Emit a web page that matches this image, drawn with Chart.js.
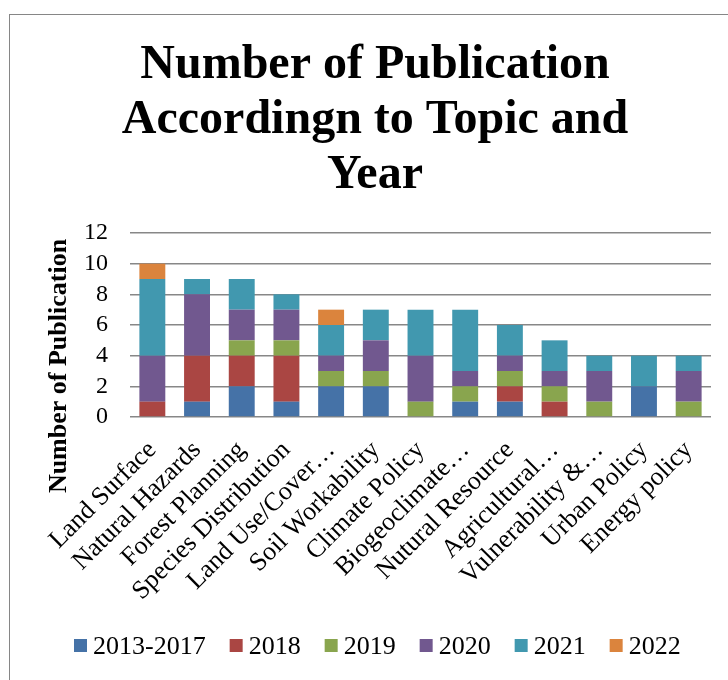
<!DOCTYPE html>
<html>
<head>
<meta charset="utf-8">
<script src="https://cdn.jsdelivr.net/npm/chart.js@4/dist/chart.umd.min.js"></script>
<style>
  html, body { margin: 0; padding: 0; overflow: hidden; background: #fff; width: 728px; height: 680px; }
  #frame { position: absolute; left: 9px; top: 14px; width: 740px; height: 700px; border: 1px solid #868686; box-sizing: border-box; }
  #chart { position: absolute; left: 9px; top: 14px; }
</style>
</head>
<body>
<div id="frame"></div>
<canvas id="chart" width="732" height="680"></canvas>
<script>
// Topics (x categories)
const topics = [
  "Land Surface", "Natural Hazards", "Forest Planning", "Species Distribution",
  "Land Use/Cover…", "Soil Workability", "Climate Policy", "Biogeoclimate…",
  "Nutural Resource", "Agricultural…", "Vulnerability &…", "Urban Policy", "Energy policy"
];

// Publications per topic, one array per year group
const y2013_2017 = [0, 1, 2, 1, 2, 2, 0, 1, 1, 0, 0, 2, 0];
const y2018      = [1, 3, 2, 3, 0, 0, 0, 0, 1, 1, 0, 0, 0];
const y2019      = [0, 0, 1, 1, 1, 1, 1, 1, 1, 1, 1, 0, 1];
const y2020      = [3, 4, 2, 2, 1, 2, 3, 1, 1, 1, 2, 0, 2];
const y2021      = [5, 1, 2, 1, 2, 2, 3, 4, 2, 2, 1, 2, 1];
const y2022      = [1, 0, 0, 0, 1, 0, 0, 0, 0, 0, 0, 0, 0];

const yearLabels = ["2013-2017", "2018", "2019", "2020", "2021", "2022"];
const yTicks = [0, 2, 4, 6, 8, 10, 12];
const titleLines = ["Number of Publication", "Accordingn to Topic and", "Year"];
const yAxisTitle = "Number of Publication";

const serif = "'Liberation Serif', 'Times New Roman', Times, serif";
const colors = ["#4572A7", "#AA4643", "#89A54E", "#71588F", "#4198AF", "#DB843D"];
const series = [y2013_2017, y2018, y2019, y2020, y2021, y2022];

const datasets = series.map((vals, i) => ({
  label: yearLabels[i],
  data: vals,
  backgroundColor: colors[i],
  borderWidth: 0,
  categoryPercentage: 1.0,
  barPercentage: 0.58
}));

// Chart title, vertical axis title and the legend row
const decorations = {
  id: 'decorations',
  afterDraw(chart) {
    const ctx = chart.ctx;
    ctx.save();
    ctx.fillStyle = "#000";

    // title: three centred bold lines
    ctx.font = "bold 48px " + serif;
    ctx.textAlign = "center";
    ctx.textBaseline = "alphabetic";
    titleLines.forEach((line, i) => ctx.fillText(line, 366, 64 + i * 55));

    // vertical axis title
    ctx.save();
    ctx.translate(57, 352);
    ctx.rotate(-Math.PI / 2);
    ctx.font = "bold 26px " + serif;
    ctx.textAlign = "center";
    ctx.fillText(yAxisTitle, 0, 0);
    ctx.restore();

    // legend
    ctx.font = "26px " + serif;
    ctx.textAlign = "left";
    ctx.textBaseline = "middle";
    let x = 65;
    const cy = 632;
    chart.data.datasets.forEach(ds => {
      ctx.fillStyle = ds.backgroundColor;
      ctx.fillRect(x, cy - 7, 13, 13);
      ctx.fillStyle = "#000";
      ctx.fillText(ds.label, x + 19, cy + 1);
      x += 19 + ctx.measureText(ds.label).width + 24;
    });
    ctx.restore();
  }
};

new Chart(document.getElementById('chart'), {
  type: 'bar',
  data: { labels: topics, datasets },
  plugins: [decorations],
  options: {
    responsive: false,
    animation: false,
    layout: { padding: { left: 0, right: 30, top: 219, bottom: 77 } },
    plugins: {
      title: { display: false },
      legend: { display: false },
      tooltip: { enabled: false }
    },
    scales: {
      x: {
        stacked: true,
        grid: { display: false, drawTicks: false },
        border: { display: false },
        ticks: {
          color: "#000",
          font: { family: serif, size: 26 },
          maxRotation: 45,
          minRotation: 45,
          autoSkip: false,
          padding: 18
        },
        afterFit(scale) { scale.height = 200; }
      },
      y: {
        stacked: true,
        min: 0,
        max: 12,
        afterBuildTicks(scale) { scale.ticks = yTicks.map(v => ({ value: v })); },
        grid: { color: "#878787", lineWidth: 1.5, drawTicks: false },
        border: { display: false },
        ticks: {
          color: "#000",
          font: { family: serif, size: 24 },
          padding: 22,
          autoSkip: false
        },
        afterFit(scale) { scale.width = 121; }
      }
    }
  }
});
</script>
</body>
</html>
